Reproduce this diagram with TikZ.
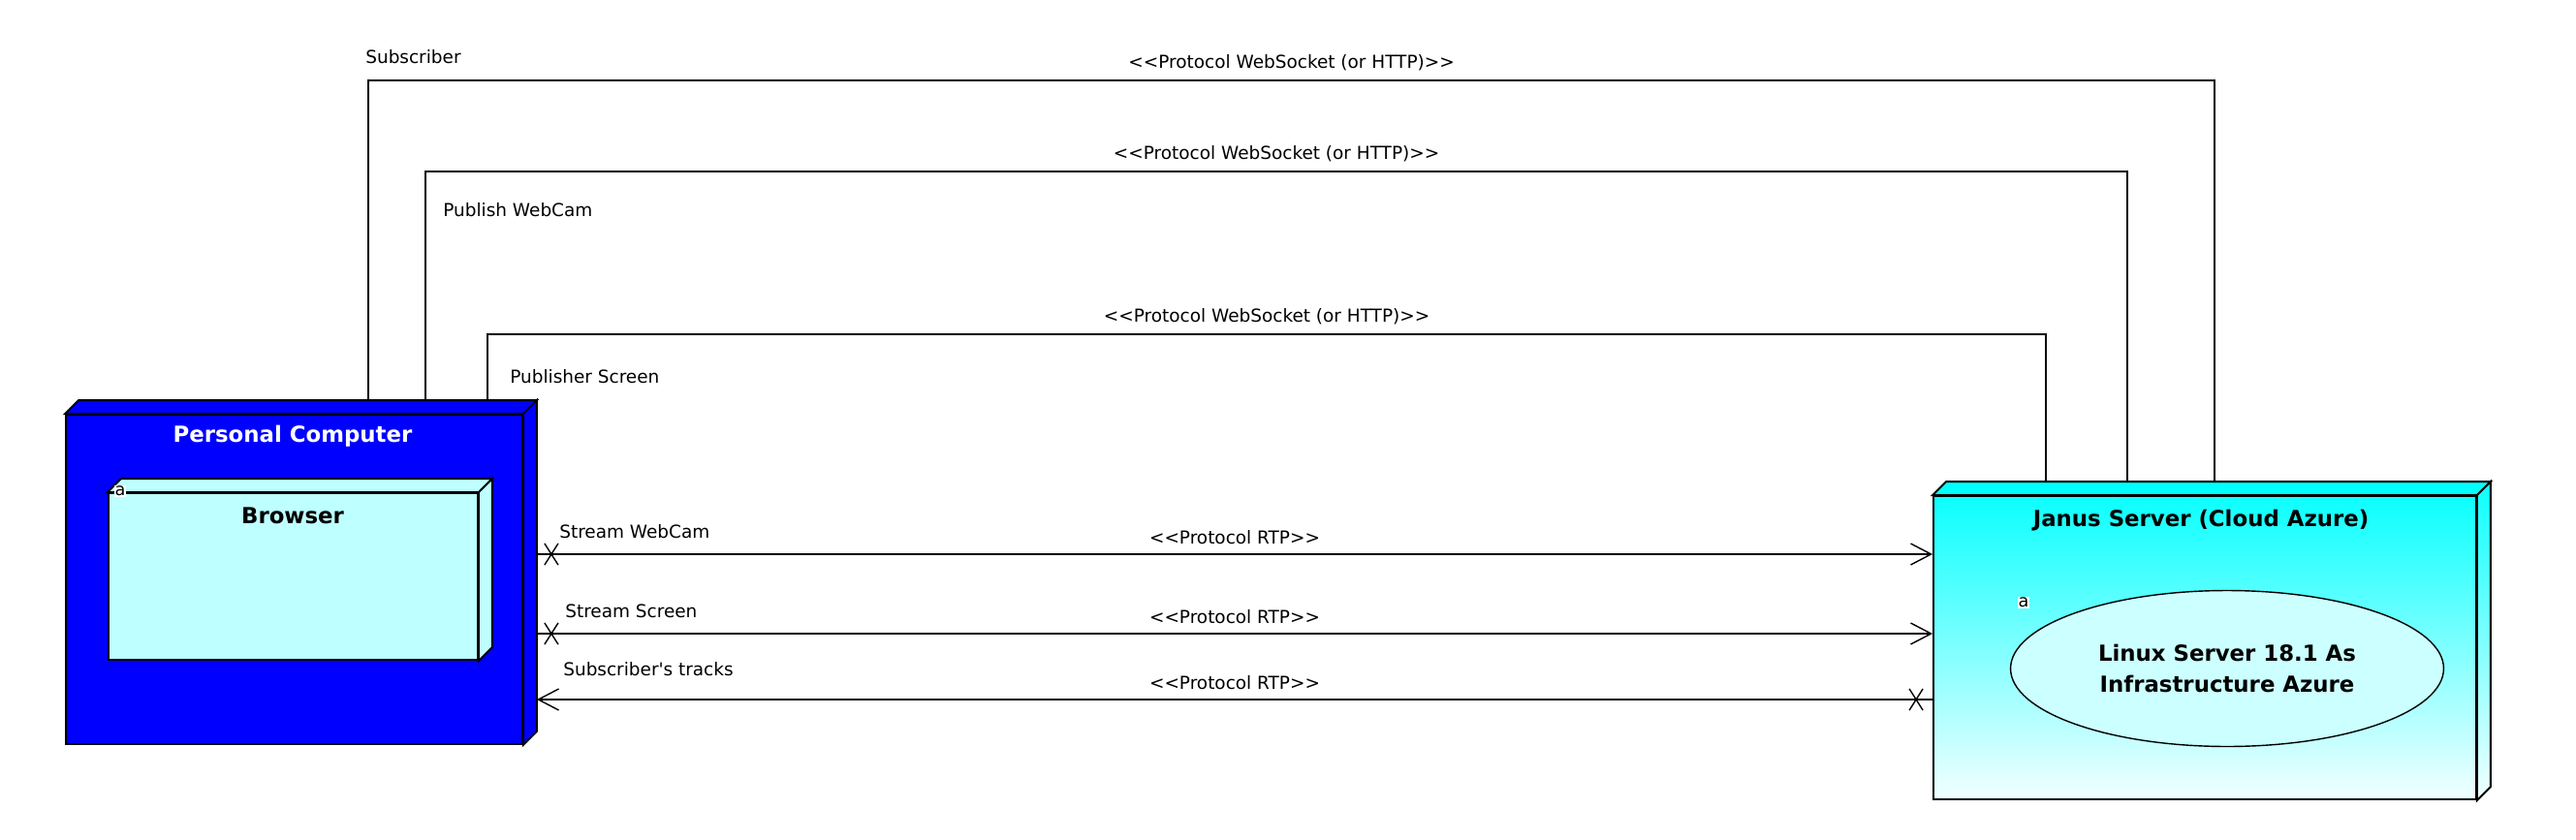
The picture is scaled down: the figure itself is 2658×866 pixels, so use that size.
\documentclass[tikz,border=0pt]{standalone}
\usepackage{fontspec}
\setmainfont{DejaVu Sans}[Ligatures=TeXOff]
\usetikzlibrary{shapes.geometric,arrows.meta,decorations.markings,positioning}

\definecolor{pcblue}{RGB}{0,0,255}
\definecolor{browsercyan}{RGB}{190,255,255}
\definecolor{janusface}{RGB}{0,255,255}
\definecolor{janustop}{RGB}{12,255,255}
\definecolor{janusbottom}{RGB}{242,255,255}
\definecolor{linuxcyan}{RGB}{204,255,255}

% top and right faces of a box node
\newcommand{\boxfaces}[3]{%
  \draw[box line,#2] (#1.north west) -- ++(14,-14) -- ([shift={(14,-14)}]#1.north east) -- (#1.north east) -- cycle;
  \draw[box line,#3] (#1.north east) -- ++(14,-14) -- ([shift={(14,-14)}]#1.south east) -- (#1.south east) -- cycle;}
\newcommand{\xcross}{\draw[-,line width=0.8pt] (-4pt,-6.3pt) -- (4pt,6.3pt) (-4pt,6.3pt) -- (4pt,-6.3pt);}

\begin{document}
\begin{tikzpicture}[x=0.02cm,y=-0.02cm,
		box line/.style={draw=black,line width=1.1pt},
		box node/.style={rectangle,box line,inner sep=0pt},
		title/.style={font=\bfseries\fontsize{13}{18}\selectfont},
		link/.style={draw,line width=0.8pt},
		link text/.style={font=\fontsize{10.5}{12}\selectfont,inner sep=0pt},
		tag/.style={fill=white,inner sep=0.3pt,font=\fontsize{10}{10}\selectfont},
		open end/.style={-{Straight Barb[length=12pt,width=12.5pt]}},
		open start/.style={{Straight Barb[length=12pt,width=12.5pt]}-},
		cross start/.style={postaction={decorate,decoration={markings,mark=at position 0.3cm with {\xcross}}}},
		cross end/.style={postaction={decorate,decoration={markings,mark=at position -0.34cm with {\xcross}}}}]
		
		\path[use as bounding box,fill=white] (0,0) rectangle (2658,866);
		
		\node[box node,fill=pcblue,minimum width=9.42cm,minimum height=6.8cm] (pc) at (303.5,598) {};
		\boxfaces{pc}{fill=pcblue}{fill=pcblue}
		\node[title,text=white] (pc title) at (302,450) {Personal Computer};
		
		\node[box node,fill=browsercyan,minimum width=7.62cm,minimum height=3.44cm] (browser) at (302.5,595) {};
		\boxfaces{browser}{fill=browsercyan}{fill=browsercyan}
		\node[title] (browser title) at (302,532) {Browser};
		\node[tag] (browser tag) at (124,507) {a};
		
		\node[box node,top color=janustop,bottom color=janusbottom,minimum width=11.2cm,minimum height=6.26cm] (janus) at (2275,668.5) {};
		\boxfaces{janus}{fill=janusface}{top color=janustop,bottom color=janusbottom}
		\node[title] (janus title) at (2271,537) {Janus Server (Cloud Azure)};
		\node[ellipse,draw,line width=0.8pt,fill=linuxcyan,inner sep=0pt,minimum width=8.94cm,minimum height=3.22cm,
			title,align=center] (linux) at (2298,690) {Linux Server 18.1 As\\Infrastructure Azure};
		\node[tag] (janus tag) at (2088,622) {a};
		
		% websocket links
		\coordinate (pc top1) at ([shift={(313,-14)}]pc.north west);
		\coordinate (pc top2) at ([shift={(372,-14)}]pc.north west);
		\coordinate (pc top3) at ([shift={(436,-14)}]pc.north west);
		\coordinate (js top1) at ([shift={(291,-14)}]janus.north west);
		\coordinate (js top2) at ([shift={(201,-14)}]janus.north west);
		\coordinate (js top3) at ([shift={(117,-14)}]janus.north west);
		
		\draw[link] (pc top1) -- ++(0,-330) -| node[pos=.25,above=5.5pt,link text] {<<Protocol WebSocket (or HTTP)>>} (js top1);
		\draw[link] (pc top2) -- ++(0,-236) -| node[pos=.25,above=5.5pt,link text] {<<Protocol WebSocket (or HTTP)>>} (js top2);
		\draw[link] (pc top3) -- ++(0,-68) -| node[pos=.25,above=5.5pt,link text] {<<Protocol WebSocket (or HTTP)>>} (js top3);
		
		\node[link text,anchor=west] (sub text) at (377,59) {Subscriber};
		\node[link text,anchor=west] (webcam text) at (457,217) {Publish WebCam};
		\node[link text,anchor=west] (screen text) at (526,389) {Publisher Screen};
		
		% rtp streams
		\coordinate (pc r1) at ([shift={(14,-26)}]pc.east);
		\coordinate (pc r2) at ([shift={(14,56)}]pc.east);
		\coordinate (pc r3) at ([shift={(14,124)}]pc.east);
		
		\draw[link,open end,cross start] (pc r1) -- node[above=5.5pt,link text] {<<Protocol RTP>>} (pc r1 -| janus.west);
		\draw[link,open end,cross start] (pc r2) -- node[above=5.5pt,link text] {<<Protocol RTP>>} (pc r2 -| janus.west);
		\draw[link,open start,cross end] (pc r3) -- node[above=5.5pt,link text] {<<Protocol RTP>>} (pc r3 -| janus.west);
		
		\node[link text,anchor=west] (stream cam) at (577,549) {Stream WebCam};
		\node[link text,anchor=west] (stream scr) at (583,631) {Stream Screen};
		\node[link text,anchor=west] (tracks) at (581,691) {Subscriber's tracks};
\end{tikzpicture}
\end{document}
